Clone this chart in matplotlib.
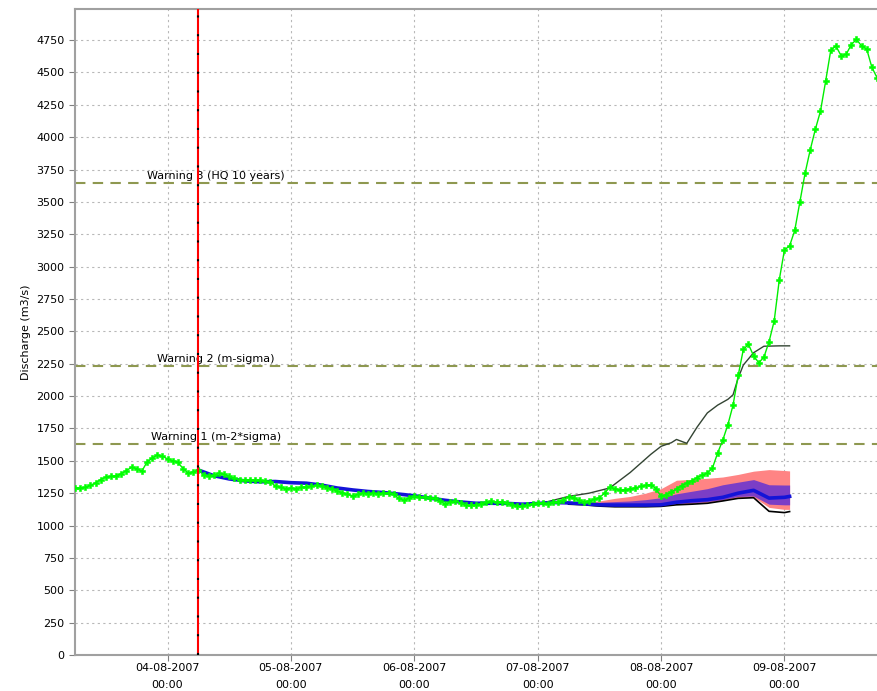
import numpy as np
import matplotlib.pyplot as plt
import matplotlib.dates as mdates

# time axis: hourly values starting 03-08-2007 06:00
t0 = np.datetime64('2007-08-03T06:00')

# observed discharge (m3/s), one value per hour
observed = [
    1290, 1290, 1295, 1310, 1330, 1355, 1375, 1380, 1385, 1400,
    1425, 1450, 1440, 1420, 1490, 1520, 1545, 1535, 1515, 1500,
    1490, 1440, 1405, 1415, 1430, 1390, 1380, 1390, 1405, 1395,
    1380, 1365, 1355, 1350, 1355, 1350, 1350, 1345, 1335, 1305,
    1295, 1285, 1290, 1285, 1295, 1300, 1305, 1310, 1305, 1290,
    1285, 1265, 1255, 1240, 1230, 1240, 1250, 1245, 1250, 1245,
    1250, 1255, 1240, 1210, 1195, 1215, 1225, 1220, 1220, 1215,
    1210, 1190, 1165, 1180, 1192, 1175, 1155, 1155, 1160, 1168,
    1180, 1190, 1180, 1185, 1175, 1162, 1150, 1148, 1158, 1170,
    1175, 1175, 1170, 1178, 1185, 1198, 1222, 1215, 1195, 1185,
    1190, 1202, 1215, 1250, 1295, 1285, 1275, 1278, 1282, 1292,
    1302, 1310, 1315, 1285, 1225, 1238, 1258, 1283, 1308, 1328,
    1345, 1370, 1390, 1405, 1445, 1560, 1660, 1780, 1930, 2160,
    2360, 2400, 2310, 2258, 2300, 2420, 2580, 2900, 3130, 3160,
    3280, 3500, 3720, 3900, 4060, 4200, 4430, 4670, 4705, 4630,
    4640, 4715, 4755, 4705, 4680, 4540, 4460,
]

# forecast median, hours after t0
median_hours = [24, 27, 30, 33, 36, 39, 42, 45, 48, 51, 54, 57, 60, 63, 66,
                69, 72, 75, 78, 81, 84, 87, 90, 93, 96, 99, 102, 105, 108,
                111, 114, 117, 120, 123, 126, 129, 132, 135, 138, 139]
median = [1429, 1385, 1360, 1345, 1338, 1340, 1331, 1327, 1312, 1290,
          1275, 1263, 1255, 1243, 1230, 1212, 1195, 1182, 1172, 1172,
          1171, 1165, 1170, 1178, 1175, 1168, 1160, 1158, 1158, 1158,
          1160, 1180, 1192, 1200, 1218, 1250, 1272, 1212, 1218, 1225]

# ensemble spread
band_hours = [96, 99, 102, 105, 108, 111, 114, 117, 120, 123, 126, 129,
              132, 135, 138, 139]
pink_lo = [1170, 1165, 1158, 1152, 1150, 1150, 1155, 1168, 1170, 1180,
           1195, 1215, 1220, 1140, 1125, 1125]
purple_lo = [1172, 1168, 1160, 1155, 1152, 1152, 1155, 1170, 1175, 1185,
             1200, 1225, 1228, 1165, 1160, 1160]
purple_hi = [1178, 1180, 1180, 1185, 1190, 1200, 1215, 1245, 1265, 1285,
             1315, 1335, 1355, 1315, 1313, 1313]
pink_hi = [1180, 1185, 1190, 1210, 1225, 1250, 1285, 1350, 1357, 1365,
           1375, 1395, 1420, 1432, 1425, 1422]
ens_min = [1165, 1160, 1150, 1145, 1145, 1145, 1148, 1160, 1165, 1172,
           1190, 1210, 1215, 1110, 1100, 1108]

# ensemble maximum
max_hours = [90, 92, 96, 100, 104, 108, 112, 114, 116, 117, 119, 121, 123,
             125, 127, 128, 129, 130, 132, 134, 137, 139]
ens_max = [1172, 1185, 1225, 1250, 1290, 1410, 1550, 1612, 1640, 1665,
           1635, 1760, 1870, 1930, 1975, 2010, 2140, 2240, 2335, 2385,
           2388, 2388]

# warning levels
warn_levels = [1630, 2232, 3645]
warn_labels = ['Warning 1 (m-2*sigma)', 'Warning 2 (m-sigma)',
               'Warning 3 (HQ 10 years)']

forecast_start = 24


def to_time(hours):
    return t0 + np.array(hours).astype('timedelta64[h]')


fig = plt.figure(figsize=(8.77, 6.91), dpi=100)
ax = fig.add_axes([75 / 877, 36 / 691, 802 / 877, 646 / 691])

obs_t = to_time(np.arange(len(observed)))
band_t = to_time(band_hours)

ax.fill_between(band_t, pink_lo, pink_hi, color='#ff8484', lw=0, zorder=2)
ax.fill_between(band_t, purple_lo, purple_hi, color='#7b3ec6', lw=0, zorder=3)
ax.plot(band_t, ens_min, color='black', lw=1.2, zorder=4)
ax.plot(to_time(max_hours), ens_max, color='#334433', lw=1.0, zorder=4)
ax.plot(to_time(median_hours), median, color='#1414d8', lw=2.6, zorder=5)
ax.plot(obs_t, observed, color='#00ee00', lw=1.0, marker='P', ms=5,
        mec='#00ff00', mfc='#00ff00', mew=0.4, zorder=6)

for lvl, lab in zip(warn_levels, warn_labels):
    ax.axhline(lvl, color='#8e9850', lw=1.5, ls=(0, (5, 3.5)), zorder=1)
    ax.text(0.176, lvl + 15, lab, transform=ax.get_yaxis_transform(),
            ha='center', va='bottom', fontsize=8, zorder=7)

# forecast start marker
fs = to_time([forecast_start])[0]
ax.axvline(fs, color='red', lw=1.5, zorder=8)
ax.axvline(fs, color='black', lw=1.5, ls=(0, (1, 8)), zorder=9)

ax.set_xlim(to_time([0])[0], to_time([156])[0])
ax.set_ylim(0, 4990)
ax.set_yticks(np.arange(0, 5000, 250))
ax.xaxis.set_major_locator(mdates.DayLocator())
ax.xaxis.set_major_formatter(mdates.DateFormatter('%d-%m-%Y\n%H:%M'))

ax.grid(True, color='#b8b8b8', ls=(0, (2, 3)), lw=0.8)
ax.set_axisbelow(True)
ax.tick_params(labelsize=8, length=4, color='#808080')
ax.tick_params(axis='x', pad=1.5)
for lbl in ax.get_xticklabels():
    lbl.set_linespacing(1.9)
for s in ['left', 'bottom', 'top']:
    ax.spines[s].set_color('#a0a0a0')
    ax.spines[s].set_linewidth(1.5)
ax.spines['right'].set_visible(False)

ax.set_ylabel('Discharge (m3/s)', fontsize=8, labelpad=4)

fig.savefig('out.png', dpi=100)
